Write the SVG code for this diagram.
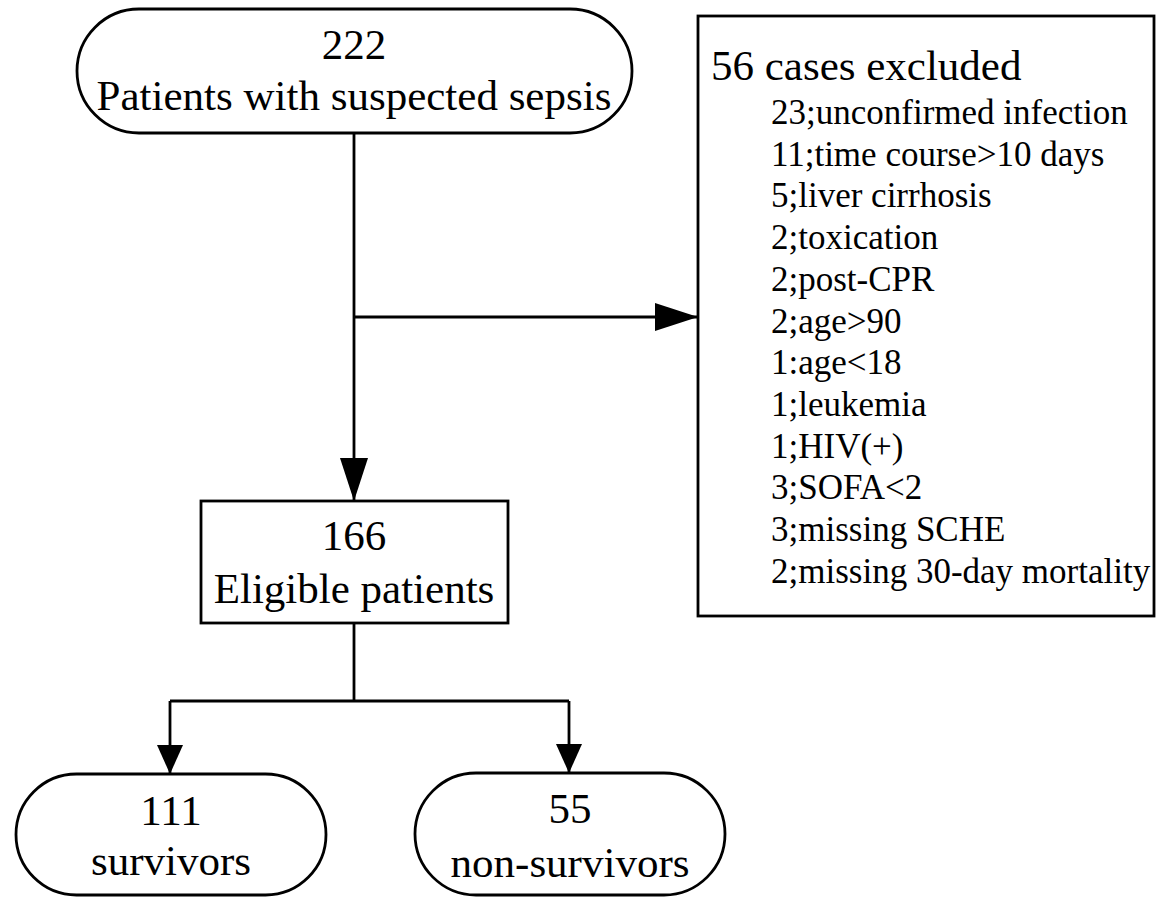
<svg xmlns="http://www.w3.org/2000/svg" width="1161" height="897" viewBox="0 0 1161 897">
<defs>
<style>
.shape{fill:#fff;stroke:#000;stroke-width:2.8}
.line{fill:none;stroke:#000;stroke-width:2.8}
.t{font-family:"Liberation Serif","Times New Roman",serif;fill:#000}
.big{font-size:43px;text-anchor:middle}
.hdr{font-size:43px}
.item{font-size:35px}
</style>
<marker id="arrL" markerUnits="userSpaceOnUse" markerWidth="43" markerHeight="28" refX="43" refY="14" orient="auto" viewBox="0 0 43 28">
<path d="M0,0 L43,14 L0,28 z" fill="#000"/>
</marker>
<marker id="arrS" markerUnits="userSpaceOnUse" markerWidth="29" markerHeight="26" refX="29" refY="13" orient="auto" viewBox="0 0 29 26">
<path d="M0,0 L29,13 L0,26 z" fill="#000"/>
</marker>
</defs>
<rect width="1161" height="897" fill="#fff"/>
<g id="connectors">
<path class="line" d="M354,133 L354,501" marker-end="url(#arrL)"/>
<path class="line" d="M354,317 L698,317" marker-end="url(#arrL)"/>
<path class="line" d="M354,623 L354,701"/>
<path class="line" d="M170,701 L569,701"/>
<path class="line" d="M170,701 L170,774" marker-end="url(#arrS)"/>
<path class="line" d="M569,701 L569,773" marker-end="url(#arrS)"/>
</g>
<g id="node-suspected">
<rect class="shape" x="77" y="9" width="555" height="124" rx="62" ry="62"/>
<text class="t big" x="354" y="59">222</text>
<text class="t big" x="354" y="110">Patients with suspected sepsis</text>
</g>
<g id="node-excluded">
<rect class="shape" x="698" y="16" width="456" height="600"/>
<text class="t hdr" x="711" y="80">56 cases excluded</text>
<text class="t item" x="771" y="124">23;unconfirmed infection</text>
<text class="t item" x="771" y="165.7">11;time course&gt;10 days</text>
<text class="t item" x="771" y="207.4">5;liver cirrhosis</text>
<text class="t item" x="771" y="249.1">2;toxication</text>
<text class="t item" x="771" y="290.8">2;post-CPR</text>
<text class="t item" x="771" y="332.5">2;age&gt;90</text>
<text class="t item" x="771" y="374.2">1:age&lt;18</text>
<text class="t item" x="771" y="415.9">1;leukemia</text>
<text class="t item" x="771" y="457.6">1;HIV(+)</text>
<text class="t item" x="771" y="499.3">3;SOFA&lt;2</text>
<text class="t item" x="771" y="541">3;missing SCHE</text>
<text class="t item" x="771" y="582.7">2;missing 30-day mortality</text>
</g>
<g id="node-eligible">
<rect class="shape" x="201" y="501" width="307" height="122"/>
<text class="t big" x="354" y="550">166</text>
<text class="t big" x="354" y="603">Eligible patients</text>
</g>
<g id="node-survivors">
<rect class="shape" x="16" y="774" width="310" height="121" rx="60.5" ry="60.5"/>
<text class="t big" x="171" y="825">111</text>
<text class="t big" x="171" y="875">survivors</text>
</g>
<g id="node-nonsurvivors">
<rect class="shape" x="415" y="773" width="310" height="122" rx="61" ry="61"/>
<text class="t big" x="570" y="823">55</text>
<text class="t big" x="570" y="877">non-survivors</text>
</g>
</svg>
